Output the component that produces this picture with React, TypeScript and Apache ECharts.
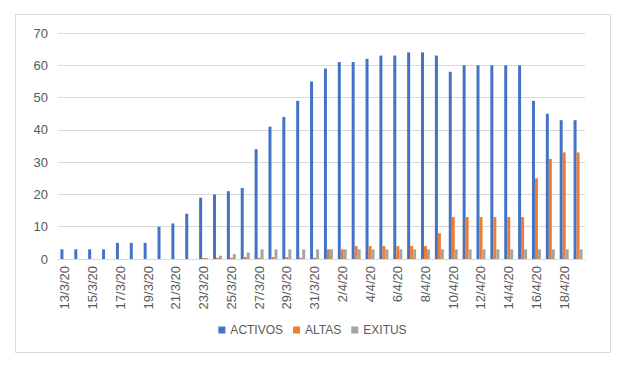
import React, { useEffect, useRef } from "react";
import * as echarts from "echarts";

const categories = [
  "13/3/20", "14/3/20", "15/3/20", "16/3/20", "17/3/20", "18/3/20", "19/3/20", "20/3/20",
  "21/3/20", "22/3/20", "23/3/20", "24/3/20", "25/3/20", "26/3/20", "27/3/20", "28/3/20",
  "29/3/20", "30/3/20", "31/3/20", "1/4/20", "2/4/20", "3/4/20", "4/4/20", "5/4/20",
  "6/4/20", "7/4/20", "8/4/20", "9/4/20", "10/4/20", "11/4/20", "12/4/20", "13/4/20",
  "14/4/20", "15/4/20", "16/4/20", "17/4/20", "18/4/20", "19/4/20",
];

const activos = [
  3, 3, 3, 3, 5, 5, 5, 10, 11, 14, 19, 20, 21, 22, 34, 41, 44, 49, 55, 59,
  61, 61, 62, 63, 63, 64, 64, 63, 58, 60, 60, 60, 60, 60, 49, 45, 43, 43,
];

const altas = [
  0, 0, 0, 0, 0, 0, 0, 0, 0, 0, 0.3, 0.4, 0.4, 0.6, 0.4, 0.6, 0.6, 0.4, 0.4, 3,
  3, 4, 4, 4, 4, 4, 4, 8, 13, 13, 13, 13, 13, 13, 25, 31, 33, 33,
];

const exitus = [
  0, 0, 0, 0, 0, 0, 0, 0, 0, 0, 0.3, 1, 1.5, 2, 3, 3, 3, 3, 3, 3,
  3, 3, 3, 3, 3, 3, 3, 3, 3, 3, 3, 3, 3, 3, 3, 3, 3, 3,
];

const yTicks = { min: 0, max: 70, interval: 10 };

export default function App() {
  const ref = useRef<HTMLDivElement>(null);
  useEffect(() => {
    if (!ref.current) return;
    const chart = echarts.init(ref.current, null, { renderer: "svg" });
    const font = "'Liberation Sans', Arial, sans-serif";
    chart.setOption({
      animation: false,
      backgroundColor: "#ffffff",
      textStyle: { fontFamily: font },
      graphic: [
        {
          type: "rect",
          shape: { x: 15.5, y: 14.5, width: 595, height: 338 },
          style: { fill: "none", stroke: "#D9D9D9", lineWidth: 1 },
          silent: true,
        },
      ],
      grid: { left: 58, right: 40, top: 33, bottom: 116 },
      legend: {
        data: ["ACTIVOS", "ALTAS", "EXITUS"],
        top: 319,
        left: "center",
        icon: "rect",
        itemWidth: 7,
        itemHeight: 7,
        itemGap: 10,
        textStyle: { fontSize: 12, color: "#595959", fontFamily: font },
      },
      xAxis: {
        type: "category",
        data: categories,
        boundaryGap: true,
        axisLine: { lineStyle: { color: "#D9D9D9" } },
        axisTick: { interval: 1, alignWithLabel: false, lineStyle: { color: "#D9D9D9" }, length: 5 },
        axisLabel: {
          interval: 1,
          rotate: 90,
          color: "#595959",
          fontSize: 13,
          margin: 7,
          fontFamily: font,
        },
      },
      yAxis: {
        type: "value",
        min: yTicks.min,
        max: yTicks.max,
        interval: yTicks.interval,
        axisLine: { show: false },
        axisTick: { show: false },
        axisLabel: { color: "#595959", fontSize: 13, margin: 10, fontFamily: font },
        splitLine: { lineStyle: { color: "#D9D9D9" } },
      },
      series: [
        { name: "ACTIVOS", type: "bar", data: activos, barWidth: 3, barGap: "0%", itemStyle: { color: "#4472C4" } },
        { name: "ALTAS", type: "bar", data: altas, barWidth: 3, barGap: "0%", itemStyle: { color: "#ED7D31" } },
        { name: "EXITUS", type: "bar", data: exitus, barWidth: 3, barGap: "0%", itemStyle: { color: "#A5A5A5" } },
      ],
    });
    return () => chart.dispose();
  }, []);
  return (
    <div
      ref={ref}
      style={{ position: "absolute", left: 0, top: 0, width: 625, height: 375 }}
    />
  );
}
